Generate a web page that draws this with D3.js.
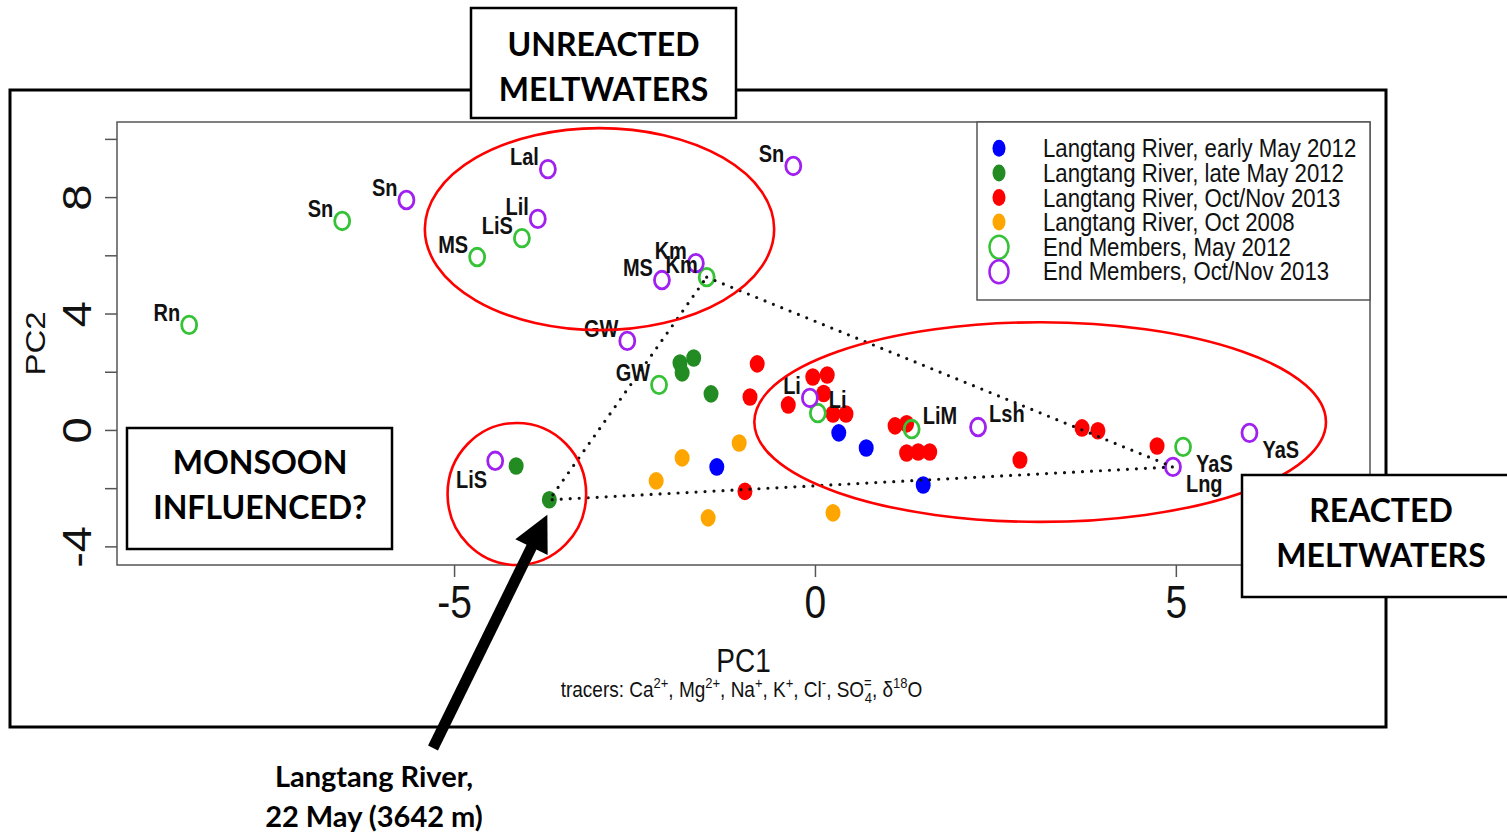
<!DOCTYPE html>
<html>
<head>
<meta charset="utf-8">
<script src="https://cdn.jsdelivr.net/npm/d3@7"></script>
<style>
  html, body { margin: 0; padding: 0; background: #fff; }
  svg { display: block; }
</style>
</head>
<body>
<svg id="fig" width="1507" height="835"></svg>
<script>
// ---- PCA scores [PC1, PC2] of Langtang River samples ----
const riverEarlyMay2012 = [[0.33, -0.10], [0.71, -0.62], [-1.36, -1.27], [1.50, -1.89]];
const riverLateMay2012 = [[-1.68, 2.47], [-1.87, 2.30], [-1.84, 1.96], [-1.44, 1.24], [-4.14, -1.24], [-3.68, -2.40]];
const riverOctNov2013 = [
  [-0.80, 2.27], [-0.90, 1.13], [-0.97, -2.11], [-0.03, 1.82], [0.17, 1.89], [-0.37, 0.86],
  [0.12, 1.25], [0.25, 0.55], [0.43, 0.55], [1.11, 0.14], [1.27, 0.21], [1.27, -0.79],
  [1.43, -0.76], [1.59, -0.76], [3.70, 0.07], [3.92, -0.03], [2.84, -1.03], [4.74, -0.55]
];
const riverOct2008 = [[-2.20, -1.75], [-1.84, -0.96], [-1.05, -0.45], [-1.48, -3.02], [0.25, -2.85]];

// ---- End members: [site code, PC1, PC2] ----
const endMembersMay2012 = [
  ["Rn", -8.67, 3.61], ["Sn", -6.55, 7.18], ["MS", -4.68, 5.94], ["LiS", -4.06, 6.59],
  ["Km", -1.50, 5.25], ["GW", -2.16, 1.55], ["Li", 0.04, 0.58], ["LiM", 1.34, 0.03], ["YaS", 5.10, -0.58]
];
const endMembersOctNov2013 = [
  ["Lal", -3.70, 8.96], ["Sn", -5.66, 7.90], ["Lil", -3.84, 7.25], ["Sn", -0.30, 9.07],
  ["MS", -2.12, 5.15], ["Km", -1.65, 5.73], ["GW", -2.60, 3.06], ["Li", -0.07, 1.10],
  ["Lsh", 2.26, 0.10], ["YaS", 6.02, -0.10], ["Lng", 4.96, -1.27], ["LiS", -4.43, -1.06]
];
// where each site code sits around its symbol
const labelSideMay2012 = ["nw", "nw", "nw", "nw", "nw", "nw", "ne", "ne", "se"];
const labelSideOctNov2013 = ["nw", "nw", "nw", "nw", "nw", "nw", "nw", "nw", "ne", "se", "se", "sw"];

// ---- Legend and axes ----
const legendLabels = [
  "Langtang River, early May 2012",
  "Langtang River, late May 2012",
  "Langtang River, Oct/Nov 2013",
  "Langtang River, Oct 2008",
  "End Members, May 2012",
  "End Members, Oct/Nov 2013"
];
const xTicks = [-5, 0, 5];
const yTicks = [-4, -2, 0, 2, 4, 6, 8, 10];
const yTickLabels = [-4, 0, 4, 8];

// ---- styling ----
const COL = {
  early: "#0000FF", late: "#228B22", octnov: "#FF0000", oct08: "#FFA500",
  emMay: "#36C236", emOct: "#A020F0"
};
const RFONT = "'Liberation Sans', Arial, Helvetica, sans-serif";
const NOTEFONT = "Lato, 'Open Sans', sans-serif";
const STRETCH = 1.18; // the R device output is taller than wide

const svg = d3.select("#fig");
const plot = { left: 117, top: 122, right: 1370, bottom: 565 };

const x = d3.scaleLinear().domain([-9.67, 7.69]).range([plot.left, plot.right]);
const y = d3.scaleLinear().domain([-4.64, 10.58]).range([plot.bottom, plot.top]);

// horizontal R-style text
function rText(g, px, py, str, size, anchor = "start", weight = "normal") {
  return g.append("text")
    .attr("transform", `translate(${px},${py}) scale(1,${STRETCH})`)
    .attr("font-family", RFONT).attr("font-size", size)
    .attr("font-weight", weight).attr("text-anchor", anchor)
    .attr("fill", "#111").text(str);
}

// ---- outer frame ----
svg.append("rect").attr("x", 10).attr("y", 90).attr("width", 1376).attr("height", 637)
  .attr("fill", "#fff").attr("stroke", "#000").attr("stroke-width", 3);

// ---- axes ----
const gx = svg.append("g").attr("transform", `translate(0,${plot.bottom})`)
  .call(d3.axisBottom(x).tickValues(xTicks).tickSize(12).tickFormat(d => String(d)));
gx.select(".domain").remove();
gx.selectAll(".tick line").attr("stroke", "#555").attr("stroke-width", 1.5);
gx.selectAll(".tick text")
  .attr("y", 0).attr("dy", null)
  .attr("transform", `translate(0,53) scale(1,${STRETCH})`)
  .attr("font-family", RFONT).attr("font-size", 39).attr("fill", "#111");

const gy = svg.append("g").attr("transform", `translate(${plot.left},0)`)
  .call(d3.axisLeft(y).tickValues(yTicks).tickSize(12)
    .tickFormat(d => yTickLabels.includes(d) ? String(d) : ""));
gy.select(".domain").remove();
gy.selectAll(".tick line").attr("stroke", "#555").attr("stroke-width", 1.5);
gy.selectAll(".tick text")
  .attr("x", 0).attr("dy", null).attr("text-anchor", "middle")
  .attr("transform", `translate(-26,0) rotate(-90) scale(${STRETCH},1)`)
  .attr("font-family", RFONT).attr("font-size", 40).attr("fill", "#111");

// plot box
svg.append("rect").attr("x", plot.left).attr("y", plot.top)
  .attr("width", plot.right - plot.left).attr("height", plot.bottom - plot.top)
  .attr("fill", "none").attr("stroke", "#555").attr("stroke-width", 1.5);

// axis titles
rText(svg, (plot.left + plot.right) / 2, 672, "PC1", 28, "middle");
svg.append("text")
  .attr("transform", `translate(45,${(plot.top + plot.bottom) / 2}) rotate(-90) scale(${STRETCH},1)`)
  .attr("font-family", RFONT).attr("font-size", 28).attr("text-anchor", "middle")
  .attr("fill", "#111").text("PC2");

// tracer list under the x title
{
  const t = svg.append("text")
    .attr("transform", `translate(${(plot.left + plot.right) / 2 - 2},697) scale(1,${STRETCH})`)
    .attr("font-family", RFONT).attr("font-size", 19).attr("text-anchor", "middle").attr("fill", "#111");
  const parts = [
    ["tracers: Ca", 0, 19], ["2+", -8, 13], [", Mg", 8, 19], ["2+", -8, 13], [", Na", 8, 19],
    ["+", -8, 13], [", K", 8, 19], ["+", -8, 13], [", Cl", 8, 19], ["-", -8, 13], [", SO", 8, 19],
    ["=", -8, 13]
  ];
  parts.forEach(([s, dy, fs]) => t.append("tspan").attr("dy", dy).attr("font-size", fs).text(s));
  t.append("tspan").attr("dx", -7).attr("dy", 13).attr("font-size", 13).text("4");
  t.append("tspan").attr("dy", -5).attr("font-size", 19).text(", \u03B4");
  t.append("tspan").attr("dy", -8).attr("font-size", 13).text("18");
  t.append("tspan").attr("dy", 8).attr("font-size", 19).text("O");
}

// ---- points ----
const RX = 7.5, RY = 8.8;
const gPts = svg.append("g");
function dots(data, color) {
  gPts.selectAll(null).data(data).enter().append("ellipse")
    .attr("cx", d => x(d[0])).attr("cy", d => y(d[1]))
    .attr("rx", RX).attr("ry", RY).attr("fill", color);
}
dots(riverEarlyMay2012, COL.early);
dots(riverLateMay2012, COL.late);
dots(riverOctNov2013, COL.octnov);
dots(riverOct2008, COL.oct08);

function rings(data, color) {
  gPts.selectAll(null).data(data).enter().append("ellipse")
    .attr("cx", d => x(d[1])).attr("cy", d => y(d[2]))
    .attr("rx", RX).attr("ry", RY).attr("fill", "none")
    .attr("stroke", color).attr("stroke-width", 2.8);
}
rings(endMembersMay2012, COL.emMay);
rings(endMembersOctNov2013, COL.emOct);

// ---- mixing triangle (dotted) ----
{
  const km = endMembersMay2012.find(d => d[0] === "Km");
  const lng = endMembersOctNov2013.find(d => d[0] === "Lng");
  const may22 = riverLateMay2012[riverLateMay2012.length - 1];
  const verts = [[km[1], km[2]], [lng[1], lng[2]], may22, [km[1], km[2]]];
  svg.append("path")
    .attr("d", d3.line().x(d => x(d[0])).y(d => y(d[1]))(verts))
    .attr("fill", "none").attr("stroke", "#111").attr("stroke-width", 3.2)
    .attr("stroke-linecap", "round").attr("stroke-dasharray", "0 9");
}

// ---- site labels ----
const gLab = svg.append("g");
const OFF = { nw: [-9, -4, "end"], ne: [11, -5, "start"], se: [13, 25, "start"], sw: [-8, 27, "end"] };
function siteLabels(data, sides) {
  data.forEach((d, i) => {
    const o = OFF[sides[i]];
    rText(gLab, x(d[1]) + o[0], y(d[2]) + o[1], d[0], 20, o[2], "bold");
  });
}
siteLabels(endMembersMay2012, labelSideMay2012);
siteLabels(endMembersOctNov2013, labelSideOctNov2013);

// ---- legend ----
{
  const lx = 977, ly = plot.top, lw = plot.right - lx, lh = 178;
  const g = svg.append("g");
  g.append("rect").attr("x", lx).attr("y", ly).attr("width", lw).attr("height", lh)
    .attr("fill", "#fff").attr("stroke", "#555").attr("stroke-width", 1.5);
  const colors = [COL.early, COL.late, COL.octnov, COL.oct08, COL.emMay, COL.emOct];
  legendLabels.forEach((lab, i) => {
    const base = ly + 35.3 + i * 24.6;
    if (i < 4) {
      g.append("ellipse").attr("cx", lx + 22).attr("cy", base - 9).attr("rx", 6.5).attr("ry", 8.5)
        .attr("fill", colors[i]);
    } else {
      g.append("ellipse").attr("cx", lx + 22).attr("cy", base - 8.5).attr("rx", 9.5).attr("ry", 11.5)
        .attr("fill", "none").attr("stroke", colors[i]).attr("stroke-width", 2.5);
    }
    rText(g, lx + 66, base, lab, 22.2, "start");
  });
}

// ---- grouping ellipses ----
const gEll = svg.append("g");
[
  { cx: -2.985, cy: 6.90, rx: 2.42, ry: 3.47 },
  { cx: 3.12, cy: 0.27, rx: 3.96, ry: 3.43 },
  { cx: -4.13, cy: -2.20, rx: 0.96, ry: 2.44 }
].forEach(e => {
  gEll.append("ellipse")
    .attr("cx", x(e.cx)).attr("cy", y(e.cy))
    .attr("rx", x(e.cx + e.rx) - x(e.cx)).attr("ry", y(e.cy) - y(e.cy + e.ry))
    .attr("fill", "none").attr("stroke", "#FF0000").attr("stroke-width", 2.6);
});

// ---- annotation boxes ----
function noteBox(bx, by, bw, bh, lines, cx, base, gap) {
  const g = svg.append("g");
  g.append("rect").attr("x", bx).attr("y", by).attr("width", bw).attr("height", bh)
    .attr("fill", "#fff").attr("stroke", "#000").attr("stroke-width", 2.5);
  lines.forEach((s, i) => g.append("text")
    .attr("x", cx).attr("y", base + i * gap)
    .attr("font-family", NOTEFONT).attr("font-weight", 700).attr("font-size", 32)
    .attr("text-anchor", "middle").attr("fill", "#000").text(s));
}
noteBox(471, 8, 265, 110, ["UNREACTED", "MELTWATERS"], 603.5, 56, 45);
noteBox(127, 428, 265, 121, ["MONSOON", "INFLUENCED?"], 260, 474, 45);
noteBox(1242, 475, 275, 122, ["REACTED", "MELTWATERS"], 1381, 522, 45);

// ---- arrow to the 22 May sample ----
{
  const may22 = riverLateMay2012[riverLateMay2012.length - 1];
  const tip = [x(may22[0]) - 2, y(may22[1]) + 15];
  const tail = [433, 748];
  const dx = tip[0] - tail[0], dy = tip[1] - tail[1];
  const len = Math.hypot(dx, dy), ux = dx / len, uy = dy / len;
  const headLen = 36, headHalf = 18;
  const base = [tip[0] - ux * headLen, tip[1] - uy * headLen];
  svg.append("line").attr("x1", tail[0]).attr("y1", tail[1])
    .attr("x2", base[0] + ux * 2).attr("y2", base[1] + uy * 2)
    .attr("stroke", "#000").attr("stroke-width", 11);
  svg.append("path").attr("d",
    `M${tip[0]},${tip[1]} L${base[0] - uy * headHalf},${base[1] + ux * headHalf} L${base[0] + uy * headHalf},${base[1] - ux * headHalf} Z`)
    .attr("fill", "#000");
  ["Langtang River,", "22 May (3642 m)"].forEach((s, i) => svg.append("text")
    .attr("x", 374).attr("y", 787 + i * 40)
    .attr("font-family", NOTEFONT).attr("font-weight", 700).attr("font-size", 29)
    .attr("text-anchor", "middle").attr("fill", "#000").text(s));
}
</script>
</body>
</html>
